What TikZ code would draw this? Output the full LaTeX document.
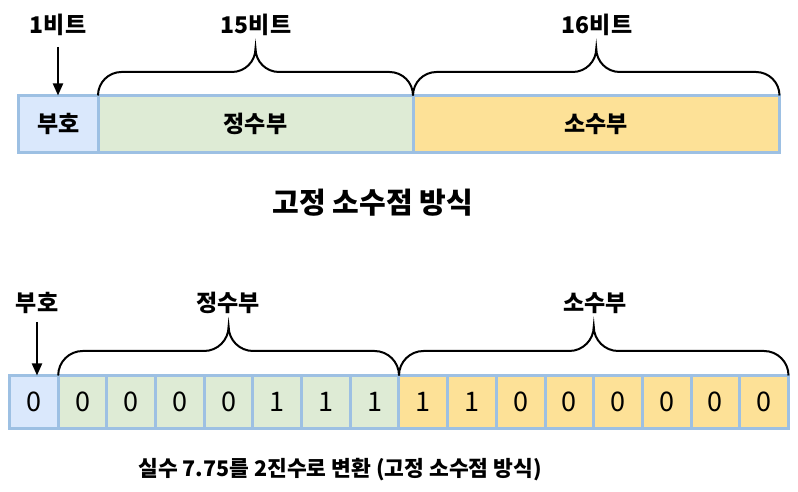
\documentclass[tikz,border=0pt]{standalone}
\usepackage{fontspec}
\setmainfont{Noto Sans CJK KR}
\usetikzlibrary{arrows.meta,calc}

\definecolor{signblue}{HTML}{DAE8FC}
\definecolor{intgreen}{HTML}{DEEBD5}
\definecolor{fracyellow}{HTML}{FDE197}
\definecolor{cellborder}{HTML}{9DC0E3}

% brace with round ends: left end, right end, radius
\newcommand{\fieldbrace}[3]{%
  \draw[bracestyle] (#1) arc[start angle=180,end angle=90,radius=#3pt]
    -- ($(#1)!0.5!(#2)+(-#3,#3)$) arc[start angle=270,end angle=360,radius=#3pt]
    arc[start angle=180,end angle=270,radius=#3pt]
    -- ($(#2)+(-#3,#3)$) arc[start angle=90,end angle=0,radius=#3pt];}

\begin{document}
\begin{tikzpicture}[x=1pt,y=1pt,
    field/.style={draw=cellborder,line width=3pt,outer sep=0pt,inner sep=0pt,
      minimum height=57pt,font=\fontsize{23}{27}\selectfont\bfseries},
    bitcell/.style={draw=cellborder,line width=3pt,outer sep=0pt,inner sep=0pt,
      minimum width=48.69pt,minimum height=53pt,font=\fontsize{27}{30}\selectfont},
    label/.style={font=\fontsize{23}{27}\selectfont\bfseries},
    caption/.style={font=\fontsize{#1}{32}\selectfont\bfseries},
    arrow/.style={-{Triangle[length=12pt,width=10pt]},line width=2pt},
    bracestyle/.style={line width=2pt}]
    \useasboundingbox (0,0) rectangle (798,492);

        % fixed point layout
        \node[field,fill=signblue,minimum width=79.5pt] (sign) at (58.25,368) {부호};
        \node[field,fill=intgreen,minimum width=315pt] (int) at (255.5,368) {정수부};
        \node[field,fill=fracyellow,minimum width=366.5pt] (frac) at (596.25,368) {소수부};
        \node[label] (signbits) at (58,467) {1비트};
        \node[label] (intbits) at (256,467) {15비트};
        \node[label] (fracbits) at (597,467) {16비트};
        \coordinate (signtail) at (58,445);
        \draw[arrow] (signtail) -- (signtail |- sign.north);
        \fieldbrace{int.north west}{int.north east}{23.5}
        \fieldbrace{frac.north west}{frac.north east}{23.5}
        \node[caption=29] (title) at (373,289) {고정 소수점 방식};

        % 7.75 in binary
        \node[bitcell,fill=signblue] (c0) at (33.84,90) {0};
        \node[bitcell,fill=intgreen] (c1) at (82.53,90) {0};
        \node[bitcell,fill=intgreen] (c2) at (131.22,90) {0};
        \node[bitcell,fill=intgreen] (c3) at (179.91,90) {0};
        \node[bitcell,fill=intgreen] (c4) at (228.59,90) {0};
        \node[bitcell,fill=intgreen] (c5) at (277.28,90) {1};
        \node[bitcell,fill=intgreen] (c6) at (325.97,90) {1};
        \node[bitcell,fill=intgreen] (c7) at (374.66,90) {1};
        \node[bitcell,fill=fracyellow] (c8) at (423.34,90) {1};
        \node[bitcell,fill=fracyellow] (c9) at (472.03,90) {1};
        \node[bitcell,fill=fracyellow] (c10) at (520.72,90) {0};
        \node[bitcell,fill=fracyellow] (c11) at (569.41,90) {0};
        \node[bitcell,fill=fracyellow] (c12) at (618.09,90) {0};
        \node[bitcell,fill=fracyellow] (c13) at (666.78,90) {0};
        \node[bitcell,fill=fracyellow] (c14) at (715.47,90) {0};
        \node[bitcell,fill=fracyellow] (c15) at (764.16,90) {0};
        \node[label] (signname) at (37,189) {부호};
        \node[label] (intname) at (228,189) {정수부};
        \node[label] (fracname) at (595,189) {소수부};
        \coordinate (bittail) at (37,170);
        \draw[arrow] (bittail) -- (bittail |- c0.north);
        \fieldbrace{c1.north west}{c7.north east}{24.5}
        \fieldbrace{c8.north west}{c15.north east}{24.5}
        \node[caption=21.5] (bincaption) at (340,22) {실수 7.75를 2진수로 변환 (고정 소수점 방식)};
    \end{tikzpicture}
\end{document}
